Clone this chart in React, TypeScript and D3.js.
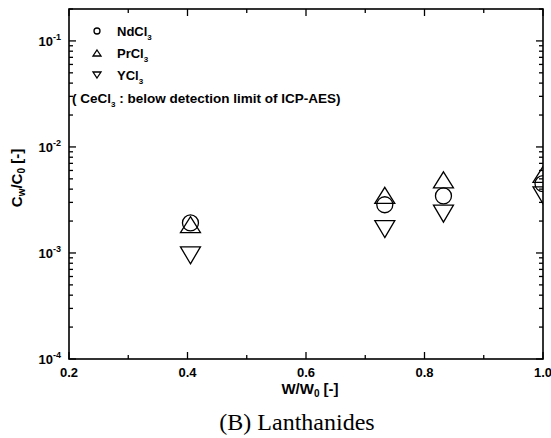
import React from 'react';
import * as d3 from 'd3';

// W/W0 values and the measured concentration ratios Cw/C0
const wRatio = [0.405, 0.733, 0.832, 1.0];
const ndCl3 = [1.92e-3, 2.85e-3, 3.45e-3, 4.5e-3];
const prCl3 = [1.85e-3, 3.5e-3, 4.9e-3, 5.5e-3];
const yCl3 = [0.95e-3, 1.68e-3, 2.35e-3, 3.5e-3];

const xTicks = [0.2, 0.4, 0.6, 0.8, 1.0];
const xMinor = [0.3, 0.5, 0.7, 0.9];
const yTicks = [1e-4, 1e-3, 1e-2, 1e-1];
const yTickExp = ['-4', '-3', '-2', '-1'];
const legendNames = ['NdCl', 'PrCl', 'YCl'];

const W = 551,
	H = 438,
	left = 69,
	right = 543,
	top = 9,
	bottom = 359;

const font = '"Liberation Sans", Arial, sans-serif';

const circle = (cx: number, cy: number, r: number) => (
	<circle cx={cx} cy={cy} r={r} fill="none" stroke="#000" strokeWidth={1.3} />
);

const tri = (cx: number, cy: number, w: number, h: number, up: boolean) => {
	const pts = up
		? [ [ cx, cy - h / 2 ], [ cx + w / 2, cy + h / 2 ], [ cx - w / 2, cy + h / 2 ] ]
		: [ [ cx, cy + h / 2 ], [ cx + w / 2, cy - h / 2 ], [ cx - w / 2, cy - h / 2 ] ];
	return <polygon points={pts.map( ( p ) => p.join( ',' ) ).join( ' ' )} fill="none" stroke="#000" strokeWidth={1.3} />;
};

const App = () => {
	const x = d3.scaleLinear().domain( [ 0.2, 1.0 ] ).range( [ left, right ] );
	const y = d3.scaleLog().domain( [ 1e-4, 0.2 ] ).range( [ bottom, top ] );

	const yMinor: number[] = [];
	[ 1e-4, 1e-3, 1e-2, 1e-1 ].forEach( ( d ) => {
		for ( let k = 2; k <= 9; k++ ) if ( d * k <= 0.2 ) yMinor.push( d * k );
	} );

	return (
		<svg width={W} height={H} style={{ position: 'absolute', left: 0, top: 0 }}>
			<defs>
				<clipPath id="plot">
					<rect x={left} y={top} width={right - left} height={bottom - top} />
				</clipPath>
			</defs>
			<rect width={W} height={H} fill="#fff" />

			{/* ticks, all inward */}
			<g stroke="#000" strokeWidth={1.3}>
				{xTicks.map( ( t ) => (
					<g key={'xt' + t}>
						<line x1={x( t )} x2={x( t )} y1={bottom} y2={bottom - 7} />
						<line x1={x( t )} x2={x( t )} y1={top} y2={top + 7} />
					</g>
				) )}
				{xMinor.map( ( t ) => (
					<g key={'xm' + t}>
						<line x1={x( t )} x2={x( t )} y1={bottom} y2={bottom - 4} />
						<line x1={x( t )} x2={x( t )} y1={top} y2={top + 4} />
					</g>
				) )}
				{yTicks.map( ( t ) => (
					<g key={'yt' + t}>
						<line x1={left} x2={left + 7} y1={y( t )} y2={y( t )} />
						<line x1={right} x2={right - 7} y1={y( t )} y2={y( t )} />
					</g>
				) )}
				{yMinor.map( ( t ) => (
					<g key={'ym' + t}>
						<line x1={left} x2={left + 4} y1={y( t )} y2={y( t )} />
						<line x1={right} x2={right - 4} y1={y( t )} y2={y( t )} />
					</g>
				) )}
			</g>

			{/* data */}
			<g clipPath="url(#plot)">
				{wRatio.map( ( w, i ) => (
					<g key={'d' + i}>
						{circle( x( w ), y( ndCl3[ i ] ), 8 )}
						{tri( x( w ), y( prCl3[ i ] ), 20, 16, true )}
						{tri( x( w ), y( yCl3[ i ] ), 20, 17, false )}
					</g>
				) )}
			</g>

			<rect x={left} y={top} width={right - left} height={bottom - top} fill="none" stroke="#000" strokeWidth={1.6} />

			{/* tick labels */}
			<g fontFamily={font} fontWeight="bold" fill="#000">
				{xTicks.map( ( t ) => (
					<text key={'xl' + t} x={x( t )} y={377} fontSize={13} textAnchor="middle">
						{t.toFixed( 1 )}
					</text>
				) )}
				{yTicks.map( ( t, i ) => (
					<text key={'yl' + t} x={left - 8} y={y( t ) + 5} fontSize={13} textAnchor="end">
						10
						<tspan fontSize={9} dy={-6}>
							{yTickExp[ i ]}
						</tspan>
					</text>
				) )}
			</g>

			{/* axis titles */}
			<text x={310} y={394} fontFamily={font} fontWeight="bold" fontSize={15} textAnchor="middle">
				W/W<tspan fontSize={10} dy={3}>0</tspan>
				<tspan dy={-3}> [-]</tspan>
			</text>
			<text
				transform="translate(22,178) rotate(-90)"
				fontFamily={font}
				fontWeight="bold"
				fontSize={15}
				textAnchor="middle"
			>
				C<tspan fontSize={10} dy={3}>w</tspan>
				<tspan dy={-3}>/C</tspan>
				<tspan fontSize={10} dy={3}>0</tspan>
				<tspan dy={-3}> [-]</tspan>
			</text>

			{/* legend */}
			<g fontFamily={font} fontWeight="bold" fontSize={13}>
				{legendNames.map( ( n, i ) => {
					const ly = 31 + i * 22;
					return (
						<g key={n}>
							{i === 0 && circle( 97, ly, 3 )}
							{i === 1 && tri( 97, ly, 8, 6, true )}
							{i === 2 && tri( 97, ly, 8, 6, false )}
							<text x={117} y={ly + 5}>
								{n}
								<tspan fontSize={8} dy={4}>3</tspan>
							</text>
						</g>
					);
				} )}
				<text x={72} y={103} fontSize={13.5}>
					( CeCl<tspan fontSize={8} dy={4}>3</tspan>
					<tspan dy={-4}> : below detection limit of ICP-AES)</tspan>
				</text>
			</g>

			<text x={297} y={430} fontFamily='"Liberation Serif", "Times New Roman", serif' fontSize={24} textAnchor="middle">
				(B) Lanthanides
			</text>
		</svg>
	);
};

export default App;
